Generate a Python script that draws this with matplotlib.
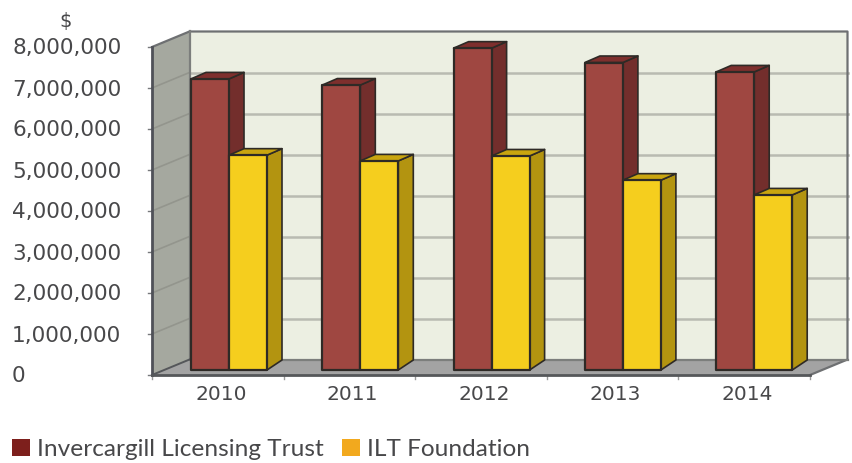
import matplotlib
matplotlib.use("Agg")
import matplotlib.pyplot as plt
from matplotlib.patches import Polygon, Patch

years = ["2010", "2011", "2012", "2013", "2014"]
trust = [7.10, 6.95, 7.85, 7.50, 7.27]        # millions
foundation = [5.24, 5.10, 5.22, 4.63, 4.27]   # millions
y_ticks = [0, 1, 2, 3, 4, 5, 6, 7, 8]
y_labels = ["0", "1,000,000", "2,000,000", "3,000,000", "4,000,000",
            "5,000,000", "6,000,000", "7,000,000", "8,000,000"]

W, H = 853, 463
PX_CAT, PX_M = 131.3, 41.0   # pixels per category, per million
X0_PX, Y0_PX = 229.0, 375.0  # data origin in pixels

fig = plt.figure(figsize=(W / 100, H / 100), dpi=100, facecolor="white")
ax = fig.add_axes([0, 0, 1, 1])
ax.set_xlim(-X0_PX / PX_CAT, (W - X0_PX) / PX_CAT)
ax.set_ylim((Y0_PX - H) / PX_M, Y0_PX / PX_M)
ax.axis("off")

def dx(p):
    return p / PX_CAT

def dy(p):
    return p / PX_M

BAR_W = dx(38)
LEFT, RIGHT = dx(152 - X0_PX), dx(810 - X0_PX)
DEPTH_X, DEPTH_Y = dx(37.5), dy(15.5)
TOP = 8
BAR_BASE = dy(5)
BAR_DX, BAR_DY_TOP, BAR_DY_BOT = dx(15), dy(6.5), dy(10)

def poly(pts, fc, ec="none", lw=0, z=1, **kw):
    ax.add_patch(Polygon(pts, closed=True, facecolor=fc, edgecolor=ec,
                         linewidth=lw, zorder=z, joinstyle="round", **kw))

# walls and floor
poly([(LEFT + DEPTH_X, DEPTH_Y), (RIGHT + DEPTH_X, DEPTH_Y),
      (RIGHT + DEPTH_X, TOP + DEPTH_Y), (LEFT + DEPTH_X, TOP + DEPTH_Y)], "#ECEFE2")
poly([(LEFT, 0), (LEFT + DEPTH_X, DEPTH_Y),
      (LEFT + DEPTH_X, TOP + DEPTH_Y), (LEFT, TOP)], "#A5A89F")
poly([(LEFT, 0), (RIGHT, 0), (RIGHT + DEPTH_X, DEPTH_Y), (LEFT + DEPTH_X, DEPTH_Y)], "#A3A3A3")

# gridlines
for v in y_ticks[1:-1]:
    ax.plot([LEFT + DEPTH_X, RIGHT + DEPTH_X], [v + DEPTH_Y, v + DEPTH_Y],
            color="#B9BBB1", lw=1.8, zorder=2)
    ax.plot([LEFT, LEFT + DEPTH_X], [v, v + DEPTH_Y], color="#93958D", lw=1.2, zorder=2)

# frame
FRAME = "#6E7072"
ax.plot([LEFT, LEFT + DEPTH_X, RIGHT + DEPTH_X, RIGHT + DEPTH_X, RIGHT],
        [TOP, TOP + DEPTH_Y, TOP + DEPTH_Y, DEPTH_Y, 0], color=FRAME, lw=1.6, zorder=2)
ax.plot([LEFT + DEPTH_X, LEFT + DEPTH_X, RIGHT + DEPTH_X],
        [TOP + DEPTH_Y, DEPTH_Y, DEPTH_Y], color="#7C7E7C", lw=1.6, zorder=2)
ax.plot([LEFT, LEFT + DEPTH_X], [0, DEPTH_Y], color="#55575A", lw=1.4, zorder=2)
ax.plot([LEFT, LEFT], [0, TOP], color="#4F5158", lw=2.0, zorder=6)
ax.plot([LEFT, RIGHT], [0, 0], color="#55575A", lw=2.0, zorder=6)

# tick marks
for v in y_ticks:
    ax.plot([LEFT - dx(4), LEFT], [v, v], color="#77797C", lw=1.0, zorder=5)
for k in range(6):
    xt = LEFT + k * (RIGHT - LEFT) / 5
    ax.plot([xt, xt], [0, -dy(4)], color="#9A9A9A", lw=1.0, zorder=5)

# bars
EDGE = "#2E2A26"

def bar3d(x, v, front, side, top):
    b = BAR_BASE
    t = b + v
    poly([(x + BAR_W, b), (x + BAR_W + BAR_DX, b + BAR_DY_BOT),
          (x + BAR_W + BAR_DX, t + BAR_DY_TOP), (x + BAR_W, t)], side, EDGE, 1.2, 3)
    poly([(x, t), (x + BAR_W, t), (x + BAR_W + BAR_DX, t + BAR_DY_TOP),
          (x + BAR_DX, t + BAR_DY_TOP)], top, EDGE, 1.2, 3)
    poly([(x, b), (x + BAR_W, b), (x + BAR_W, t), (x, t)], front, EDGE, 1.6, 3)

for i in range(len(years)):
    bar3d(i - BAR_W, trust[i], "#9F4741", "#732E2C", "#7E2F2D")
for i in range(len(years)):
    bar3d(i, foundation[i], "#F5CE1E", "#B39410", "#C9A50F")

# text
TXT = "#48484A"
NUM = dict(family="DejaVu Sans", color=TXT, fontsize=15.6, va="center")
for v, s in zip(y_ticks, y_labels):
    ax.text(dx(12 - X0_PX), v - dy(1.5), s, ha="left", **NUM)
ax.text(dx(66 - X0_PX), dy(Y0_PX - 21), "$", ha="center", **{**NUM, "fontsize": 14})
for i, s in enumerate(years):
    ax.text(LEFT + (i + 0.5) * (RIGHT - LEFT) / 5 + dx(3), -dy(20), s, ha="center",
            **{**NUM, "fontsize": 14.5})

handles = [Patch(facecolor="#7D1F1C", label="Invercargill Licensing Trust"),
           Patch(facecolor="#F2A91E", label="ILT Foundation")]
ax.legend(handles=handles, loc="lower left", bbox_to_anchor=(0.0, -0.0205), frameon=False, ncol=2,
          prop={"family": "Lato", "size": 17.6}, labelcolor=TXT,
          handlelength=0.72, handleheight=0.72, handletextpad=0.3, columnspacing=0.75,
          borderaxespad=0, borderpad=0.5)

fig.savefig("out.png", dpi=100, facecolor="white")
